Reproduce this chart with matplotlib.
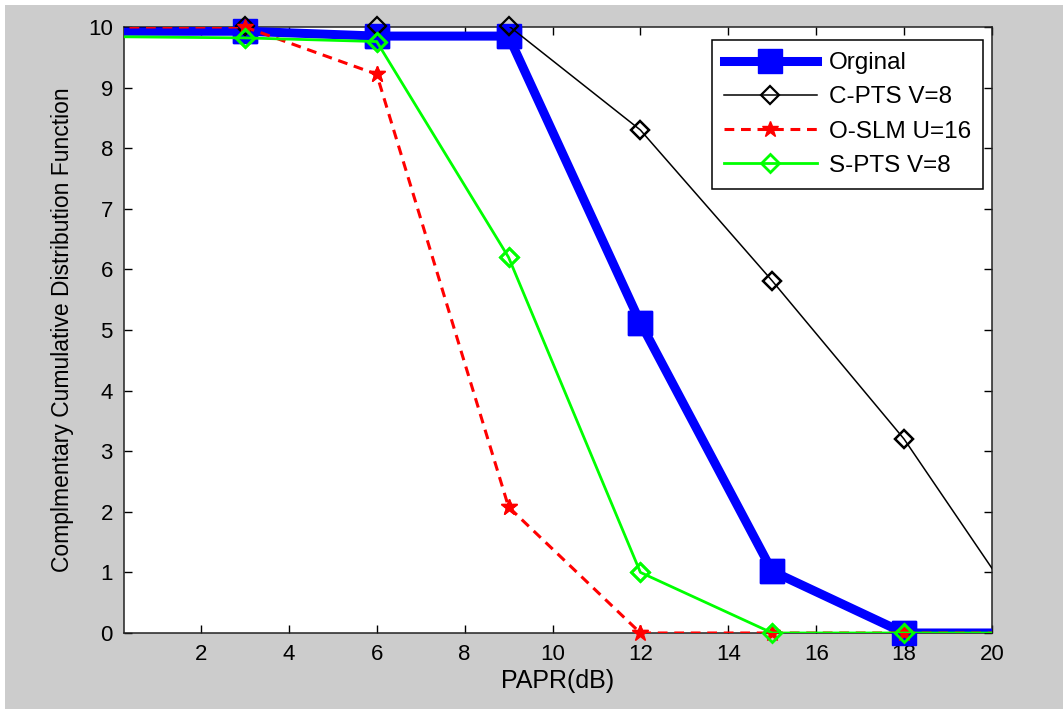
import matplotlib
matplotlib.use("Agg")
import matplotlib.pyplot as plt
from matplotlib.patches import Rectangle

# ---- data ----
papr = [0, 3, 6, 9, 12, 15, 18, 21]
original = [9.93, 9.93, 9.85, 9.85, 5.12, 1.02, 0.0, 0.0]
c_pts = [10.0, 10.02, 10.02, 10.02, 8.3, 5.81, 3.2, 0.0]
o_slm = [10.0, 10.0, 9.22, 2.08, 0.0, 0.0, 0.0, 0.0]
s_pts = [9.84, 9.82, 9.76, 6.2, 1.0, 0.0, 0.0, 0.0]
labels = ["Orginal", "C-PTS V=8", "O-SLM U=16", "S-PTS V=8"]
xticks = [2, 4, 6, 8, 10, 12, 14, 16, 18, 20]
yticks = [0, 1, 2, 3, 4, 5, 6, 7, 8, 9, 10]

plt.rcParams['font.family'] = ['Liberation Sans', 'DejaVu Sans']

W, H = 1063, 709
fig = plt.figure(figsize=(W / 100, H / 100), dpi=100, facecolor='white')
fig.patches.append(Rectangle((5 / W, 0), 1 - 5 / W, 1 - 5 / H, transform=fig.transFigure,
                             facecolor='#cccccc', edgecolor='none', zorder=-10))

ax = fig.add_axes([124 / W, 76 / H, (992 - 124) / W, (633 - 27) / H])
ax.set_facecolor('white')

mk = slice(1, 7)
styles = [
    dict(color='#0000ff', lw=6.5, marker='s', ms=17, zorder=3),
    dict(color='black', lw=1.1, marker='D', ms=9.5, mfc='none', mew=1.6, zorder=4),
    dict(color='#ff0000', lw=2.2, ls=(0, (3.2, 2.2)), marker='*', ms=12, zorder=5),
    dict(color='#00ff00', lw=2.0, marker='D', ms=9.5, mfc='none', mew=2.0, zorder=6),
]
series = [original, c_pts, o_slm, s_pts]
for vals, lab, st in zip(series, labels, styles):
    ax.plot(papr, vals, markevery=mk, label=lab, **st)
    # markers are not clipped by the axes box (as in the original figure)
    mst = {k: v for k, v in st.items() if k not in ('ls', 'lw')}
    mst['zorder'] = st['zorder'] + 0.5
    ax.plot(papr[1:7], vals[1:7], linestyle='none', clip_on=False, **mst)

ax.set_xlim(0.25, 20)
ax.set_ylim(0, 10)
ax.set_xticks(xticks)
ax.set_yticks(yticks)
ax.tick_params(direction='in', length=6, width=1, top=True, right=True,
               labelsize=16, pad=8, colors='black')
for s in ax.spines.values():
    s.set_linewidth(1.1)
    s.set_color('#222222')

ax.set_xlabel("PAPR(dB)", fontsize=18, labelpad=3)
ax.set_ylabel("Complmentary Cumulative Distribution Function", fontsize=16.5, labelpad=10)

leg = ax.legend(loc='upper right', bbox_to_anchor=(983 / W, 1 - 40 / H),
                bbox_transform=fig.transFigure, borderaxespad=0, fontsize=17.5,
                fancybox=False, shadow=False, framealpha=1, edgecolor='black',
                handlelength=3.8, handletextpad=0.5, labelspacing=0.5,
                borderpad=0.5)
leg.get_frame().set_linewidth(1.1)
leg.set_zorder(20)

fig.savefig("out.png", dpi=100, facecolor=fig.get_facecolor())
